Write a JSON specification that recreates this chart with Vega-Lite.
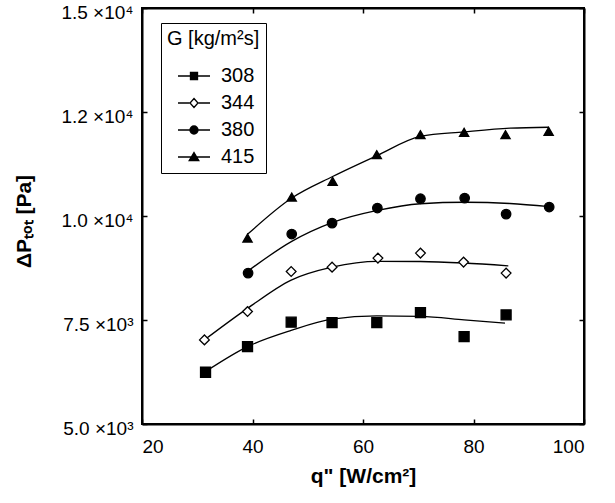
{
  "$schema": "https://vega.github.io/schema/vega-lite/v6.json",
  "width": 442,
  "height": 416,
  "autosize": {"type": "none"},
  "padding": {"left": 142, "top": 8, "right": 31, "bottom": 79},
  "background": "white",
  "config": {
    "font": "Liberation Sans",
    "view": {"stroke": "black", "strokeWidth": 2},
    "axis": {
      "grid": false,
      "domainColor": "black",
      "domainWidth": 2,
      "tickColor": "black",
      "tickWidth": 1.5,
      "labelColor": "black",
      "titleColor": "black",
      "labelFont": "Liberation Sans",
      "titleFont": "Liberation Sans"
    }
  },
  "datasets": {
    "points": [
      {"G": "308", "q": 31.5, "dp": 6244}, {"G": "308", "q": 39.1, "dp": 6861}, {"G": "308", "q": 47.0, "dp": 7447}, {"G": "308", "q": 54.4, "dp": 7438},
      {"G": "308", "q": 62.5, "dp": 7438}, {"G": "308", "q": 70.4, "dp": 7679}, {"G": "308", "q": 78.3, "dp": 7101}, {"G": "308", "q": 85.9, "dp": 7623},
      {"G": "344", "q": 31.3, "dp": 7022}, {"G": "344", "q": 39.1, "dp": 7703}, {"G": "344", "q": 47.0, "dp": 8666}, {"G": "344", "q": 54.4, "dp": 8771},
      {"G": "344", "q": 62.7, "dp": 8988}, {"G": "344", "q": 70.4, "dp": 9108}, {"G": "344", "q": 78.2, "dp": 8892}, {"G": "344", "q": 85.9, "dp": 8627},
      {"G": "380", "q": 39.2, "dp": 8627}, {"G": "380", "q": 47.1, "dp": 9566}, {"G": "380", "q": 54.4, "dp": 9830}, {"G": "380", "q": 62.6, "dp": 10191},
      {"G": "380", "q": 70.4, "dp": 10415}, {"G": "380", "q": 78.4, "dp": 10431}, {"G": "380", "q": 85.9, "dp": 10046}, {"G": "380", "q": 93.7, "dp": 10215},
      {"G": "415", "q": 39.1, "dp": 9469}, {"G": "415", "q": 47.1, "dp": 10456}, {"G": "415", "q": 54.5, "dp": 10832}, {"G": "415", "q": 62.5, "dp": 11474},
      {"G": "415", "q": 70.4, "dp": 11955}, {"G": "415", "q": 78.3, "dp": 12011}, {"G": "415", "q": 85.8, "dp": 11955}, {"G": "415", "q": 93.6, "dp": 12035}
    ],
    "fit": [
      {"G": "308", "q": 31.5, "dp": 6260}, {"G": "308", "q": 39.1, "dp": 6860}, {"G": "308", "q": 47.0, "dp": 7250}, {"G": "308", "q": 54.4, "dp": 7520},
      {"G": "308", "q": 62.5, "dp": 7600}, {"G": "308", "q": 70.4, "dp": 7585}, {"G": "308", "q": 78.3, "dp": 7505}, {"G": "308", "q": 85.7, "dp": 7424},
      {"G": "344", "q": 31.3, "dp": 7022}, {"G": "344", "q": 39.1, "dp": 7780}, {"G": "344", "q": 47.0, "dp": 8460}, {"G": "344", "q": 54.4, "dp": 8771},
      {"G": "344", "q": 62.7, "dp": 8910}, {"G": "344", "q": 70.4, "dp": 8906}, {"G": "344", "q": 78.2, "dp": 8870}, {"G": "344", "q": 86.3, "dp": 8803},
      {"G": "380", "q": 39.2, "dp": 8680}, {"G": "380", "q": 47.1, "dp": 9390}, {"G": "380", "q": 54.4, "dp": 9840}, {"G": "380", "q": 62.6, "dp": 10134},
      {"G": "380", "q": 70.4, "dp": 10295}, {"G": "380", "q": 78.5, "dp": 10330}, {"G": "380", "q": 86.6, "dp": 10300}, {"G": "380", "q": 93.7, "dp": 10225},
      {"G": "415", "q": 39.1, "dp": 9560}, {"G": "415", "q": 47.1, "dp": 10433}, {"G": "415", "q": 54.5, "dp": 10950}, {"G": "415", "q": 62.5, "dp": 11450},
      {"G": "415", "q": 70.4, "dp": 11914}, {"G": "415", "q": 78.3, "dp": 12020}, {"G": "415", "q": 86.6, "dp": 12110}, {"G": "415", "q": 93.6, "dp": 12133}
    ]
  },
  "layer": [
    {
      "data": {"name": "fit"},
      "mark": {"type": "line", "color": "black", "strokeWidth": 1.3, "interpolate": "monotone"},
      "encoding": {
        "x": {"field": "q", "type": "quantitative", "scale": {"domain": [20, 100], "nice": false, "zero": false},
          "axis": {"orient": "top", "labels": false, "title": null, "values": [20, 40, 60, 80, 100], "tickSize": -5}},
        "y": {"field": "dp", "type": "quantitative", "scale": {"domain": [5000, 15000], "nice": false, "zero": false},
          "axis": {"orient": "right", "labels": false, "title": null, "values": [5000, 7500, 10000, 12500, 15000], "tickSize": -5}},
        "detail": {"field": "G", "type": "nominal"}
      }
    },
    {
      "data": {"name": "points"},
      "mark": {"type": "point", "filled": true, "stroke": "black", "strokeWidth": 1.3, "opacity": 1},
      "encoding": {
        "x": {"field": "q", "type": "quantitative",
          "axis": {"orient": "bottom", "values": [20, 40, 60, 80, 100], "tickSize": -5, "labelPadding": 18, "labelFontSize": 19,
            "title": "q\" [W/cm²]", "titleFontSize": 21, "titleFontWeight": "bold", "titleBaseline": "middle", "titleY": 52}},
        "y": {"field": "dp", "type": "quantitative",
          "axis": {"orient": "left", "values": [5000, 7500, 10000, 12500, 15000], "tickSize": -5, "labelPadding": 14, "labelFontSize": 19, "labelOffset": 4,
            "labelExpr": "datum.value == 5000 ? '5.0 ×10³' : datum.value == 7500 ? '7.5 ×10³' : datum.value == 10000 ? '1.0 ×10⁴' : datum.value == 12500 ? '1.2 ×10⁴' : '1.5 ×10⁴'",
            "title": "ΔPₜₒₜ [Pa]", "titleFontSize": 21, "titleFontWeight": "bold", "titleBaseline": "middle", "titleX": -118, "titleY": 213}},
        "shape": {"field": "G", "type": "nominal", "scale": {"domain": ["308", "344", "380", "415"], "range": ["square", "diamond", "circle", "triangle-up"]}, "legend": null},
        "fill": {"field": "G", "type": "nominal", "scale": {"domain": ["308", "344", "380", "415"], "range": ["black", "white", "black", "black"]}, "legend": null},
        "size": {"field": "G", "type": "nominal", "scale": {"domain": ["308", "344", "380", "415"], "range": [100, 85, 100, 130]}, "legend": null}
      }
    },
    {
      "data": {"name": "points"},
      "mark": {"type": "point", "filled": true, "stroke": "black", "strokeWidth": 1.3, "opacity": 0},
      "encoding": {
        "x": {"field": "q", "type": "quantitative", "axis": null},
        "y": {"field": "dp", "type": "quantitative", "axis": null},
        "shape": {"field": "G", "type": "nominal",
          "scale": {"domain": ["308", "344", "380", "415"],
            "range": [
              "M-2,0H2M-0.44,-0.44H0.44V0.44H-0.44Z",
              "M-2,0H-0.56M0.56,0H2M0,-0.56L0.5,0L0,0.56L-0.5,0Z",
              "M-2,0H2M0.5,0C0.5,0.276,0.276,0.5,0,0.5C-0.276,0.5,-0.5,0.276,-0.5,0C-0.5,-0.276,-0.276,-0.5,0,-0.5C0.276,-0.5,0.5,-0.276,0.5,0Z",
              "M-2,0H2M0,-0.55L0.6,0.45L-0.6,0.45Z"
            ]},
          "legend": {"title": "G [kg/m²s]", "orient": "none", "legendX": 19, "legendY": 15,
            "strokeColor": "black", "fillColor": "white", "padding": 6,
            "titleFontSize": 20, "titleFontWeight": "normal", "titleColor": "black", "titlePadding": 17,
            "labelFontSize": 20, "labelColor": "black", "symbolSize": 256, "symbolStrokeColor": "black", "symbolStrokeWidth": 1.3,
            "symbolOpacity": 1, "symbolOffset": 17, "labelOffset": 17, "rowPadding": 7,
            "encode": {"symbols": {"update": {"stroke": {"value": "black"}, "strokeWidth": {"value": 1.3}, "opacity": {"value": 1}}}}}},
        "fill": {"field": "G", "type": "nominal", "scale": {"domain": ["308", "344", "380", "415"], "range": ["black", "white", "black", "black"]},
          "legend": {"title": "G [kg/m²s]", "orient": "none", "legendX": 19, "legendY": 15,
            "strokeColor": "black", "fillColor": "white", "padding": 6,
            "titleFontSize": 20, "titleFontWeight": "normal", "titleColor": "black", "titlePadding": 17,
            "labelFontSize": 20, "labelColor": "black", "symbolSize": 256, "symbolStrokeColor": "black", "symbolStrokeWidth": 1.3,
            "symbolOpacity": 1, "symbolOffset": 17, "labelOffset": 17, "rowPadding": 7,
            "encode": {"symbols": {"update": {"stroke": {"value": "black"}, "strokeWidth": {"value": 1.3}, "opacity": {"value": 1}}}}}}
      }
    }
  ],
  "resolve": {"scale": {"shape": "independent", "fill": "independent"}, "axis": {"x": "independent", "y": "independent"}}
}
